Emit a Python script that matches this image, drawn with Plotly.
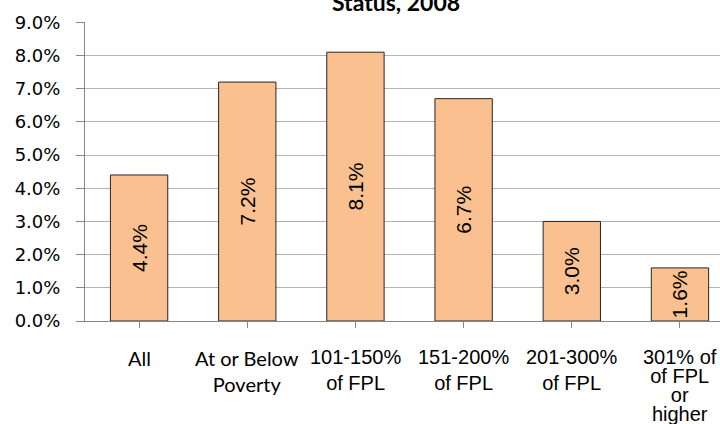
import plotly.graph_objects as go

categories = ["All", "At or Below Poverty", "101-150% of FPL", "151-200% of FPL",
              "201-300% of FPL", "301% of of FPL or higher"]
tick_labels = ["All", "At or Below<br>Poverty", "101-150%<br>of FPL", "151-200%<br>of FPL",
               "201-300%<br>of FPL", "301% of<br>of FPL<br>or<br>higher"]
values = [0.044, 0.072, 0.081, 0.067, 0.030, 0.016]
value_labels = ["4.4%", "7.2%", "8.1%", "6.7%", "3.0%", "1.6%"]
y_ticks = [0.0, 0.01, 0.02, 0.03, 0.04, 0.05, 0.06, 0.07, 0.08, 0.09]
title_text = "Status, 2008"

x_pos = list(range(len(categories)))

fig = go.Figure()
fig.add_trace(go.Bar(
    x=x_pos, y=values, width=0.53,
    marker=dict(color="#FAC090", line=dict(color="#262626", width=1)),
    text=value_labels, textposition="inside", insidetextanchor="middle",
    textangle=-90, constraintext="none",
    textfont=dict(family="Liberation Sans, Arial", size=21, color="#000000"),
    hoverinfo="skip",
))

fig.update_layout(
    width=720, height=424,
    margin=dict(l=85, r=0, t=22, b=103, autoexpand=False),
    paper_bgcolor="white", plot_bgcolor="white",
    showlegend=False,
    bargap=0.47,
)
fig.add_annotation(
    text="<b>" + title_text + "</b>", xref="paper", yref="paper",
    x=(396 - 85) / 635, xanchor="center", y=(321 - 18) / 299, yanchor="bottom",
    showarrow=False, font=dict(family="Lato", size=23, color="#000000"),
)

# category labels under the axis (drawn at category positions on the x scale)
for i, lab in enumerate(tick_labels):
    if i < 2:
        fam, base, txt = "Lato", 20, lab
    elif i < 5:
        fam, base, txt = "Liberation Sans, Arial", 20, lab
    else:
        fam, base = "Liberation Sans, Arial", 14.5
        txt = "<br>".join("<span style='font-size:20px'>" + part + "</span>"
                          for part in lab.split("<br>"))
    fig.add_annotation(
        text=txt, x=x_pos[i], xref="x", y=(321 - 344) / 299, yref="paper",
        xanchor="center", yanchor="top", showarrow=False, align="center",
        font=dict(family=fam, size=base, color="#000000"),
    )

fig.update_xaxes(
    range=[-0.5, 5.37], tickvals=x_pos, showticklabels=False,
    showline=True, linecolor="#868686", linewidth=1,
    ticks="outside", tickson="boundaries", ticklen=6, tickcolor="#868686",
    showgrid=False, zeroline=False, automargin=False,
)
fig.update_yaxes(
    range=[0, 0.0901], tickvals=y_ticks, tickformat=".1%",
    showline=True, linecolor="#868686", linewidth=1,
    ticks="outside", ticklen=8, tickcolor="#868686",
    showgrid=True, gridcolor="#B3B3B3", gridwidth=1, zeroline=False,
    ticklabelstandoff=12, automargin=False,
    tickfont=dict(family="DejaVu Sans", size=18, color="#000000"),
)

fig.write_html("out.html", config={"displayModeBar": False},
               post_script="document.body.style.margin='0';")
